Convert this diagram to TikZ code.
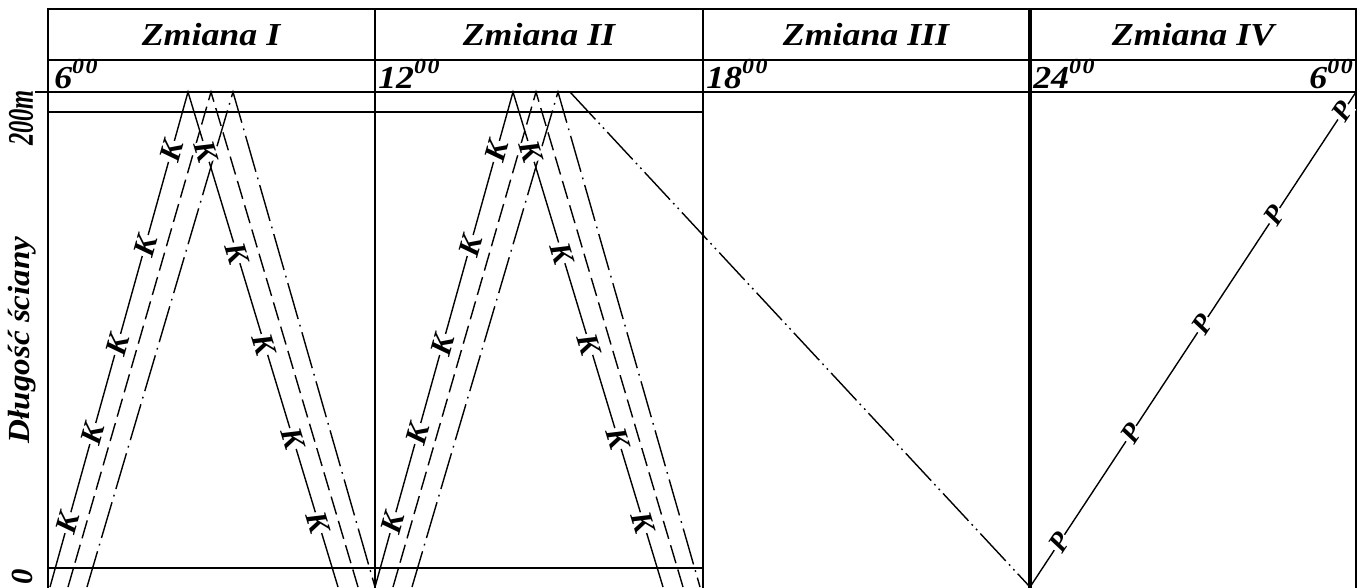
\documentclass[tikz,border=0pt]{standalone}
\usepackage{fontspec}
\setmainfont{Liberation Serif}
\usepackage{tikz}

\newcommand\wide[1]{\scalebox{1.12}[1]{#1}}
\newcommand\hfnt{\fontsize{24pt}{26pt}\selectfont\bfseries\itshape}
\newcommand\hour[1]{\wide{#1\raisebox{0.45em}{\fontsize{16pt}{17pt}\selectfont 0\kern1pt0}}}

\tikzset{
  frame/.style={line width=1.6pt},
  trace/.style={line width=1.05pt},
  dashtrace/.style={trace, dash pattern=on 14pt off 5pt},
  dottrace/.style={trace, dash pattern=on 28pt off 4.5pt on 1.3pt off 4.5pt},
  ddottrace/.style={trace, dash pattern=on 28pt off 3.5pt on 1.3pt off 3.5pt on 1.3pt off 3.5pt},
  klabel/.style={font=\fontsize{23pt}{24pt}\selectfont\bfseries\itshape, fill=white, inner sep=0.4pt, sloped},
  plabel/.style={klabel, font=\fontsize{21pt}{22pt}\selectfont\bfseries\itshape},
  head/.style={font=\hfnt, anchor=base},
  hourlabel/.style={font=\hfnt, anchor=base west, inner sep=0pt},
  axislabel/.style={font=\fontsize{23pt}{25pt}\selectfont\bfseries\itshape, rotate=90, inner sep=0pt},
}

\begin{document}
\begin{tikzpicture}[x=0.75pt,y=-0.75pt]
	\useasboundingbox (0,0) rectangle (1359,587);
	% table
	\draw[frame] (47,9) -- (1357,9);
	\draw[frame] (47,60) -- (1357,60);
	\draw[frame] (35,92) -- (1357,92);
	\draw[frame] (48,112) -- (703,112);
	\draw[frame] (48,568) -- (703,568);
	\draw[line width=2pt] (48,8) -- (48,600);
	\draw[frame] (375,8) -- (375,600);
	\draw[frame] (703,8) -- (703,600);
	\draw[line width=2.4pt] (1030,8) -- (1030,600);
	\draw[frame] (1356,8) -- (1356,600);
	% headers
	\node[head] (z1) at (211,45) {\wide{Zmiana I}};
	\node[head] (z2) at (539,45) {\wide{Zmiana II}};
	\node[head] (z3) at (866,45) {\wide{Zmiana III}};
	\node[head] (z4) at (1193,45) {\wide{Zmiana IV}};
	\node[hourlabel] (t1) at (54,88) {\hour{6}};
	\node[hourlabel] (t2) at (378,88) {\hour{12}};
	\node[hourlabel] (t3) at (706,88) {\hour{18}};
	\node[hourlabel] (t4) at (1033,88) {\hour{24}};
	\node[hourlabel, anchor=base east] (t5) at (1353,88) {\hour{6}};
	% axis
	\node[axislabel, font=\fontsize{27pt}{28pt}\selectfont\bfseries\itshape] (y200) at (21,118) {\scalebox{0.68}[1]{200m}};
	\node[axislabel] (ylab) at (22,340) {\scalebox{1.08}[1]{Długość ściany}};
	\node[axislabel] (y0) at (22,577) {0};
	% shifts I and II
	\foreach \s/\c in {0/a,325/b} {
		\coordinate (\c f1) at ({50+\s},587);
		\coordinate (\c p1) at ({188+\s},92);
		\coordinate (\c d1) at ({338+\s},587);
		\coordinate (\c f2) at ({68+\s},587);
		\coordinate (\c p2) at ({211+\s},92);
		\coordinate (\c d2) at ({358+\s},587);
		\coordinate (\c f3) at ({87+\s},587);
		\coordinate (\c p3) at ({233+\s},92);
		\coordinate (\c d3) at ({375+\s},587);
		\draw[dottrace] (\c f3) -- (\c p3) -- (\c d3);
		\draw[dashtrace] (\c f2) -- (\c p2) -- (\c d2);
		\draw[trace] (\c f1) -- (\c p1) -- (\c d1);
		\path (\c f1) -- (\c p1) foreach \p [count=\i] in {.13,.31,.49,.69,.88} {node[klabel,pos=\p] (\c u\i) {K}};
		\path (\c p1) -- (\c d1) foreach \p [count=\i] in {.12,.325,.51,.70,.87} {node[klabel,pos=\p] (\c v\i) {K}};
	}
	% shift III
	\coordinate (s3) at (570,92);
	\coordinate (e3) at (1030,587);
	\draw[ddottrace] (s3) -- (e3);
	% shift IV
	\coordinate (top4) at (1356,92);
	\draw[trace] (e3) -- (top4);
	\path (e3) -- (top4) foreach \p [count=\i] in {.09,.31,.53,.75,.96} {node[plabel,pos=\p] (pp\i) {P}};
\end{tikzpicture}
\end{document}
